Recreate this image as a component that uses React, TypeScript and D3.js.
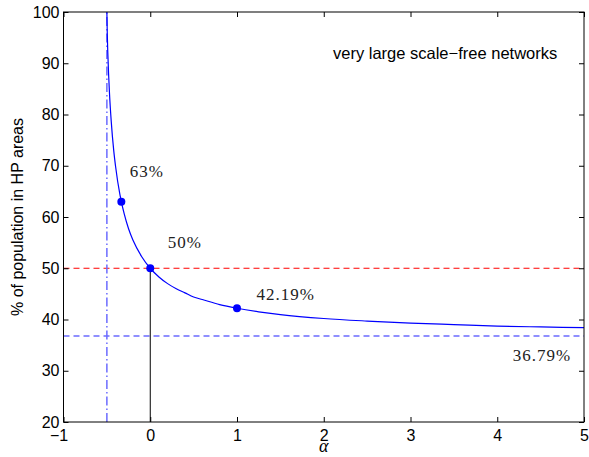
import React, { useEffect, useRef } from 'react';
import * as d3 from 'd3';

// curve samples (alpha, % of population)
const curveAlpha = [-0.5, -0.495, -0.49, -0.48, -0.47, -0.45, -0.42, -0.4, -0.35, -1 / 3, -0.3, -0.25, -0.2, -0.1, 0,
  0.1, 0.2, 0.3, 0.4, 0.5, 0.6, 0.8, 1, 1.25, 1.5, 2, 2.5, 3, 3.5, 4, 4.5, 5];
const curvePct = [100, 95.5, 92.4, 87.8, 84.2, 78.7, 72.8, 69.9, 64.4, 63.0, 60.6, 57.7, 55.5, 52.3, 50,
  48.3, 47.0, 46.0, 45.2, 44.4, 43.9, 42.9, 42.19, 41.5, 40.96, 40.2, 39.7, 39.3, 39.0, 38.7, 38.55, 38.4];

const markerAlpha = [-1 / 3, 0, 1];
const markerPct = [63, 50, 42.19];

const noteText = ['63%', '50%', '42.19%', '36.79%'];
const noteAlpha = [-0.236, 0.201, 1.224, 4.178];
const notePct = [67.8, 54.0, 43.8, 31.9];

const xTicks = [-1, 0, 1, 2, 3, 4, 5];
const yTicks = [20, 30, 40, 50, 60, 70, 80, 90, 100];

const halfLine = 50;
const limitLine = 36.79;
const asymptote = -0.5;

const App = () => {
  const ref = useRef<SVGSVGElement>(null);

  useEffect(() => {
    const svg = d3.select(ref.current);
    svg.selectAll('*').remove();

    const W = 589, H = 457;
    const m = { left: 63.5, right: 5, top: 12, bottom: 35 };
    const x = d3.scaleLinear().domain([-1, 5]).range([m.left, W - m.right]);
    const y = d3.scaleLinear().domain([20, 100]).range([H - m.bottom, m.top]);
    const sans = 'Liberation Sans, Arial, sans-serif';

    svg.append('rect').attr('width', W).attr('height', H).attr('fill', '#fff');

    const g = svg.append('g');

    // reference lines
    g.append('line')
      .attr('x1', x(-1)).attr('x2', x(5)).attr('y1', y(halfLine)).attr('y2', y(halfLine))
      .attr('stroke', '#ff0000').attr('stroke-width', 1).attr('stroke-dasharray', '6,4');
    g.append('line')
      .attr('x1', x(-1)).attr('x2', x(5)).attr('y1', y(limitLine)).attr('y2', y(limitLine))
      .attr('stroke', '#6b6bff').attr('stroke-width', 1.5).attr('stroke-dasharray', '6,4');
    g.append('line')
      .attr('x1', x(asymptote)).attr('x2', x(asymptote)).attr('y1', y(20)).attr('y2', y(100))
      .attr('stroke', '#6b6bff').attr('stroke-width', 1.5).attr('stroke-dasharray', '9,3,1.5,3');
    g.append('line')
      .attr('x1', x(0)).attr('x2', x(0)).attr('y1', y(20)).attr('y2', y(50))
      .attr('stroke', '#000').attr('stroke-width', 1);

    // curve
    const pts = curveAlpha.map((a, i) => [a, curvePct[i]] as [number, number]);
    const line = d3.line<[number, number]>()
      .x(d => x(d[0])).y(d => y(d[1]))
      .curve(d3.curveMonotoneX);
    g.append('path').datum(pts)
      .attr('d', line).attr('fill', 'none').attr('stroke', '#0000ff').attr('stroke-width', 1.2);

    g.selectAll('circle.mk').data(markerAlpha).enter().append('circle')
      .attr('cx', d => x(d)).attr('cy', (d, i) => y(markerPct[i])).attr('r', 4)
      .attr('fill', '#0000ff');

    // annotations
    g.selectAll('text.note').data(noteText).enter().append('text')
      .attr('x', (d, i) => x(noteAlpha[i])).attr('y', (d, i) => y(notePct[i]))
      .attr('font-family', 'Liberation Serif, Times New Roman, serif')
      .attr('font-size', 17).attr('letter-spacing', 1).attr('fill', '#222')
      .text(d => d);

    g.append('text')
      .attr('x', 333).attr('y', 59)
      .attr('font-family', sans).attr('font-size', 16.5).attr('fill', '#000')
      .text('very large scale\u2212free networks');

    // axes box
    g.append('rect')
      .attr('x', x(-1)).attr('y', y(100)).attr('width', x(5) - x(-1)).attr('height', y(20) - y(100))
      .attr('fill', 'none').attr('stroke', '#000').attr('stroke-width', 1);

    const tk = 5;
    const axB = d3.axisBottom(x).tickValues(xTicks).tickSizeInner(-tk).tickSizeOuter(0).tickPadding(8)
      .tickFormat(d => String(d).replace('-', '\u2212'));
    const axT = d3.axisTop(x).tickValues(xTicks).tickSizeInner(-tk).tickSizeOuter(0).tickFormat(() => '');
    const axL = d3.axisLeft(y).tickValues(yTicks).tickSizeInner(-tk).tickSizeOuter(0).tickPadding(4);
    const axR = d3.axisRight(y).tickValues(yTicks).tickSizeInner(-tk).tickSizeOuter(0).tickFormat(() => '');

    const style = (sel: any) => {
      sel.select('.domain').remove();
      sel.selectAll('text').attr('font-family', sans).attr('font-size', 16).attr('fill', '#000');
      sel.selectAll('line').attr('stroke', '#000');
    };
    const bottom = g.append('g').attr('transform', `translate(0,${y(20)})`).call(axB).call(style);
    // the minus sign pushes "−1" left in the reference
    bottom.selectAll('text').filter((d: any) => d < 0).attr('dx', -5);
    g.append('g').attr('transform', `translate(0,${y(100)})`).call(axT).call(style);
    g.append('g').attr('transform', `translate(${x(-1)},0)`).call(axL).call(style);
    g.append('g').attr('transform', `translate(${x(5)},0)`).call(axR).call(style);

    // axis labels
    g.append('text')
      .attr('x', (x(-1) + x(5)) / 2).attr('y', 452).attr('text-anchor', 'middle')
      .attr('font-family', 'Liberation Serif, serif').attr('font-style', 'italic')
      .attr('font-size', 18).attr('fill', '#000')
      .text('\u03b1');
    g.append('text')
      .attr('transform', `translate(23,${(y(20) + y(100)) / 2}) rotate(-90)`)
      .attr('text-anchor', 'middle')
      .attr('font-family', sans).attr('font-size', 16).attr('fill', '#000')
      .text('% of population in HP areas');
  }, []);

  return (
    <svg ref={ref} width={589} height={457}
      style={{ position: 'absolute', left: 0, top: 0, display: 'block' }} />
  );
};

export default App;
